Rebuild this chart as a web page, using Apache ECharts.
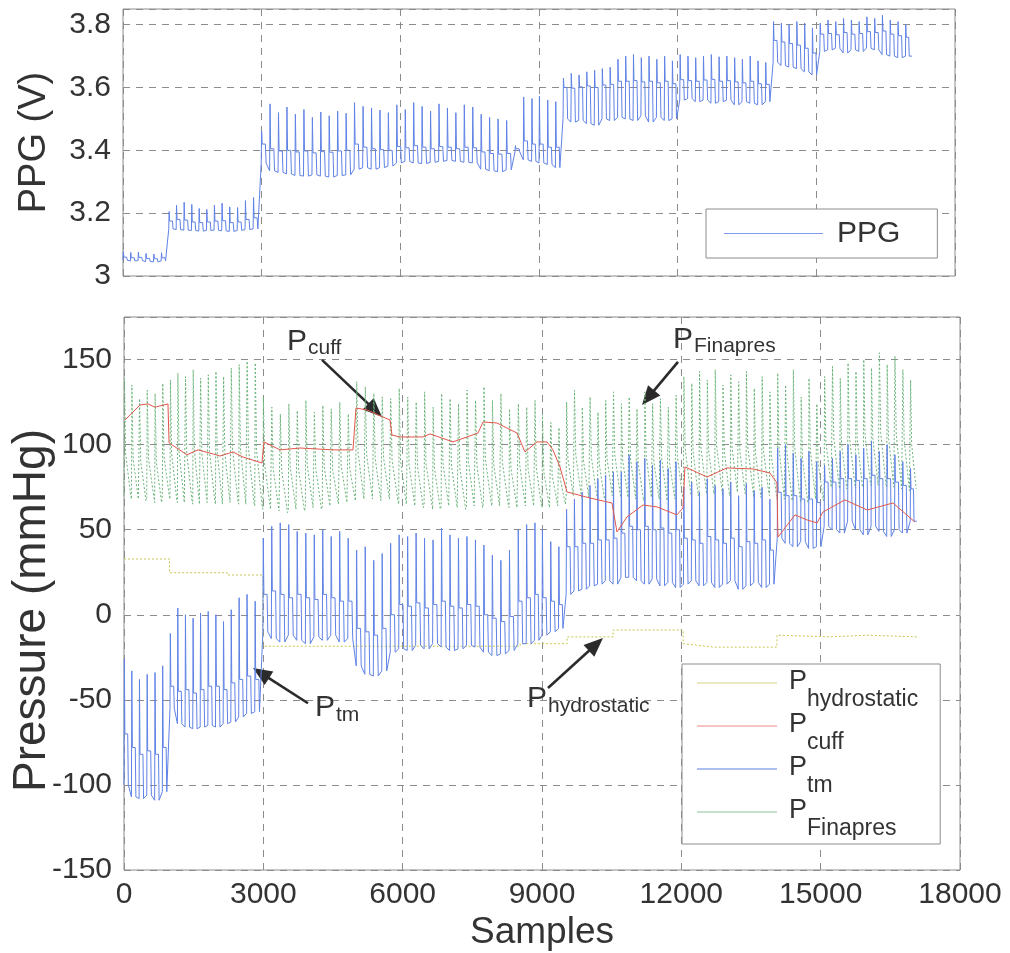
<!DOCTYPE html>
<html>
<head>
<meta charset="utf-8">
<script src="https://cdn.jsdelivr.net/npm/echarts@6/dist/echarts.min.js"></script>
<style>
  html, body { margin: 0; padding: 0; background: #fff; }
  #chart { width: 1010px; height: 953px; }
</style>
</head>
<body>
<div id="chart"></div>
<script>
// ---- Beat onsets (sample index), shared by PPG, Finapres and transmural pressure ----
const beatOnset = [
  0, 160, 325, 490, 660, 825,
  990, 1150, 1315, 1480, 1640, 1805, 1970, 2135, 2300, 2470, 2640, 2815,
  2990, 3172, 3355, 3538, 3720, 3905, 4088, 4270, 4452, 4635, 4818,
  5000, 5185, 5368, 5550, 5732,
  5915, 6098, 6280, 6462, 6645, 6828, 7010, 7192, 7375, 7558,
  7740, 7922, 8105, 8290,
  8480,
  8660, 8840, 9000, 9180, 9355,
  9520, 9690, 9858, 10025, 10195, 10362, 10530, 10700,
  10868, 11035, 11205, 11372, 11540, 11710, 11878,
  12045, 12215, 12382, 12550, 12720, 12888, 13055, 13225, 13392, 13560, 13730, 13898,
  14065, 14235, 14402, 14570, 14740, 14908,
  15075, 15245, 15412, 15580, 15750, 15918, 16085, 16255, 16422, 16590, 16760, 16928
];
const recordEnd = 17070;

// ---- PPG (V): systolic peak, plateau and trough of each beat ----
const ppgSys = [
  3.078, 3.075, 3.076, 3.072, 3.070, 3.074,
  3.205, 3.225, 3.235, 3.228, 3.215, 3.212, 3.226, 3.232, 3.220, 3.218, 3.240, 3.250,
  3.462, 3.548, 3.520, 3.538, 3.515, 3.530, 3.505, 3.522, 3.510, 3.525, 3.518,
  3.552, 3.540, 3.535, 3.528, 3.520,
  3.545, 3.530, 3.552, 3.540, 3.525, 3.548, 3.535, 3.520, 3.545, 3.538,
  3.515, 3.505, 3.500, 3.495,
  3.415,
  3.570, 3.565, 3.572, 3.560, 3.555,
  3.630, 3.645, 3.640, 3.650, 3.655, 3.660, 3.665, 3.690,
  3.700, 3.705, 3.695, 3.700, 3.690, 3.700, 3.685,
  3.705, 3.700, 3.695, 3.700, 3.705, 3.698, 3.700, 3.695, 3.690, 3.700, 3.685, 3.680,
  3.810, 3.805, 3.800, 3.810, 3.805, 3.790,
  3.805, 3.815, 3.810, 3.820, 3.815, 3.810, 3.825, 3.820, 3.830, 3.815, 3.810, 3.800
];
const ppgMid = [
  3.060, 3.058, 3.059, 3.056, 3.055, 3.058,
  3.175, 3.180, 3.178, 3.172, 3.170, 3.172, 3.175, 3.176, 3.170, 3.172, 3.180, 3.185,
  3.420, 3.405, 3.398, 3.400, 3.395, 3.398, 3.392, 3.396, 3.394, 3.398, 3.400,
  3.420, 3.410, 3.405, 3.402, 3.400,
  3.412, 3.408, 3.415, 3.410, 3.405, 3.412, 3.410, 3.405, 3.410, 3.408,
  3.395, 3.390, 3.388, 3.390,
  3.405,
  3.430, 3.420, 3.420, 3.410, 3.410,
  3.600, 3.598, 3.602, 3.605, 3.600, 3.608, 3.610, 3.620,
  3.620, 3.622, 3.618, 3.620, 3.615, 3.620, 3.612,
  3.625, 3.622, 3.620, 3.624, 3.626, 3.620, 3.622, 3.618, 3.615, 3.620, 3.612, 3.610,
  3.750, 3.745, 3.740, 3.735, 3.725, 3.710,
  3.770, 3.772, 3.768, 3.775, 3.770, 3.772, 3.778, 3.775, 3.780, 3.770, 3.765, 3.760
];
const ppgDia = [
  3.050, 3.048, 3.049, 3.046, 3.045, 3.048,
  3.150, 3.148, 3.146, 3.145, 3.143, 3.145, 3.146, 3.144, 3.142, 3.145, 3.148, 3.150,
  3.360, 3.335, 3.330, 3.325, 3.320, 3.318, 3.322, 3.318, 3.315, 3.320, 3.322,
  3.340, 3.345, 3.340, 3.345, 3.350,
  3.360, 3.365, 3.360, 3.358, 3.362, 3.365, 3.368, 3.365, 3.362, 3.360,
  3.340, 3.335, 3.332, 3.338,
  3.395,
  3.370, 3.365, 3.360, 3.355, 3.345,
  3.500, 3.490, 3.495, 3.485, 3.480, 3.500, 3.495, 3.505,
  3.500, 3.495, 3.510, 3.490, 3.505, 3.495, 3.500,
  3.560, 3.565, 3.555, 3.560, 3.550, 3.555, 3.560, 3.545, 3.555, 3.550, 3.545, 3.555,
  3.680, 3.670, 3.665, 3.660, 3.650, 3.640,
  3.715, 3.720, 3.725, 3.710, 3.720, 3.715, 3.725, 3.720, 3.705, 3.700, 3.695, 3.700
];

// ---- Transmural pressure P_tm (mmHg) per beat ----
const tmSys = [
  -26, -33, -38, -35, -34, -30,
  -11, 4, 0, -2, 1, 2, 0, -4, 3, 10, 12, 8,
  45, 52, 54, 53, 49, 48, 47, 50, 46, 49, 45,
  38, 40, 32, 36, 42,
  47, 46, 48, 45, 44, 51, 47, 45, 46, 44,
  41, 35, 32, 38,
  50,
  53, 54, 50, 43, 40,
  62, 68, 72, 76, 80, 82, 84, 84,
  94, 90, 92, 88, 91, 86, 90,
  75, 78, 72, 80, 76, 74, 78, 70, 77, 73, 75, 68,
  98, 100, 95, 92, 96, 90,
  88, 92, 96, 100, 94, 98, 102, 96, 100, 94, 90, 86
];
const tmMid = [
  -70, -78, -82, -80, -82, -78,
  -42, -45, -44, -46, -44, -42, -42, -44, -40, -38, -36, -38,
  12, 14, 12, 10, 12, 10, 9, 12, 10, 8, 8,
  -8, -10, -12, -8, 0,
  6, 5, 7, 4, 6, 8, 5, 4, 6, 5,
  0, -2, -4, -1,
  8,
  10, 12, 10, 8, 6,
  40, 40, 42, 42, 44, 44, 45, 48,
  52, 50, 52, 50, 51, 48, 50,
  45, 44, 42, 46, 44, 42, 45, 40, 43, 42, 44, 38,
  72, 70, 70, 68, 68, 66,
  78, 78, 80, 80, 79, 80, 82, 80, 80, 78, 76, 74
];
const tmDia = [
  -100, -107, -108, -106, -109, -104,
  -55, -64, -66, -67, -66, -65, -66, -64, -63, -60, -58, -57,
  -10, -14, -16, -12, -15, -17, -13, -15, -12, -16, -14,
  -30, -35, -36, -33, -22,
  -20, -21, -18, -20, -17, -19, -21, -20, -18, -19,
  -22, -24, -23, -21,
  -17,
  -17, -15, -12, -10, -8,
  12, 14, 15, 17, 18, 20, 18, 22,
  22, 20, 18, 21, 17, 19, 16,
  18, 20, 17, 19, 16, 18, 20, 15, 17, 19, 16, 18,
  45, 42, 40, 43, 39, 40,
  52, 50, 48, 55, 50, 47, 52, 49, 46, 50, 48, 55
];

// ---- Finger arterial pressure P_Finapres (mmHg) per beat ----
const finSys = [
  139, 135, 127, 132, 130, 136,
  138, 142, 140, 144, 139, 141, 143, 140, 145, 147, 149, 148,
  128, 122, 118, 124, 120, 126, 119, 123, 121, 125, 118,
  137, 134, 130, 128, 127,
  133, 128, 125, 131, 122, 130, 127, 124, 132, 126,
  134, 126, 130, 121,
  124,
  122, 126, 118, 113, 110,
  125, 132, 122, 128, 119, 126, 131, 124,
  128, 121, 131, 124, 127, 122, 129,
  140, 136, 143, 138, 144, 135, 141, 137, 143, 133, 140, 131,
  142, 135, 144, 128, 139, 124,
  140, 146, 139, 148, 143, 150, 145, 154, 147, 152, 144, 138
];
const finMid = [
  95, 92, 90, 92, 90, 93,
  95, 96, 95, 97, 95, 96, 96, 95, 97, 98, 98, 97,
  88, 86, 85, 87, 85, 88, 86, 87, 85, 88, 86,
  95, 94, 92, 92, 91,
  90, 88, 87, 89, 86, 89, 88, 86, 90, 88,
  92, 88, 90, 86,
  88,
  86, 87, 84, 82, 80,
  92, 94, 90, 93, 89, 92, 94, 91,
  92, 89, 94, 90, 92, 89, 93,
  98, 96, 99, 97, 100, 96, 98, 96, 99, 95, 97, 94,
  98, 96, 99, 92, 97, 90,
  102, 104, 101, 105, 103, 106, 104, 107, 105, 106, 103, 100
];
const finDia = [
  70, 68, 67, 69, 66, 70,
  68, 66, 67, 65, 66, 67, 65, 66, 67, 65, 66, 64,
  62, 61, 60, 62, 61, 63, 62, 64, 65, 66, 67,
  68, 68, 67, 68, 67,
  65, 64, 63, 65, 62, 64, 63, 62, 64, 63,
  66, 64, 65, 63,
  64,
  64, 65, 63, 64, 65,
  70, 71, 69, 70, 68, 70, 71, 69,
  68, 67, 69, 68, 67, 68, 69,
  72, 70, 73, 71, 74, 70, 72, 71, 73, 69, 72, 70,
  68, 67, 69, 66, 68, 67,
  75, 76, 74, 77, 75, 78, 76, 77, 75, 74, 73, 74
];

// ---- Cuff pressure P_cuff (mmHg) ----
const cuffX = [22, 345, 517, 667, 947, 970, 1356, 1593, 1852, 2067, 2347, 2562, 2971, 3014, 3359,
  3789, 4500, 4930, 4995, 5232, 5576, 5727, 5770, 5942, 6437, 6588, 7083, 7385, 7622, 7730,
  8031, 8461, 8634, 8892, 9107, 9236, 9387, 9538, 10033, 10507, 10614, 10830, 11174, 11476, 11906,
  12035, 12078, 12552, 12983, 13543, 13909, 14059, 14080, 14449, 14708, 14923, 15050, 15523, 16000, 16557, 17030];
const cuffY = [114.5, 123.3, 123.9, 122, 123.9, 101, 94, 96.9, 95, 93.3, 95.7, 92.7, 89.2, 101.6, 96.9,
  98, 96.9, 96.9, 121.5, 120.4, 116.2, 114.5, 105.6, 104.5, 104.5, 106.3, 101.6, 104.5, 106.8, 113.3,
  112.7, 106.8, 95.7, 101.6, 101.6, 96.9, 86.9, 72.2, 68.6, 65.7, 48.7, 57.5, 64.5, 63.4, 58.7,
  62.8, 86.9, 81, 86.3, 85.7, 83.3, 77.5, 45.7, 58.7, 55.7, 54, 60.4, 67.5, 61.6, 65.7, 54.5];

// ---- Hydrostatic pressure P_hydrostatic (mmHg), step changes with arm position ----
const hydroX = [0, 980, 980, 2220, 2220, 2990, 2990, 8530, 8530, 9540, 9540, 10530, 10530, 12040, 12040, 12700, 14060, 14060, 15200, 16000, 17070];
const hydroY = [32.8, 32.8, 24.7, 24.7, 23.4, 23.4, -18.5, -18.5, -17, -17, -13, -13, -9, -9, -17, -19, -19, -12, -13, -12, -13];

// ---- Axis ticks ----
const sampleTicks = { min: 0, max: 18000, step: 3000 };
const ppgTicks = { min: 3, max: 3.85, step: 0.2 };
const pressureTicks = { min: -150, max: 175, step: 50 };

// ---- Annotations in data coordinates of the pressure panel: label (left, baseline), arrow tail, arrow tip ----
const notes = [
  { sub: 'cuff',        label: [3509, 154.5],  tail: [4263, 149.8],  tip: [5555, 116.3] },
  { sub: 'Finapres',    label: [11820, 155.6], tail: [11928, 148.6], tip: [11153, 123.3] },
  { sub: 'tm',          label: [4112, -60.8],  tail: [3962, -52],    tip: [2777, -31.3] },
  { sub: 'hydrostatic', label: [8677, -55.5],  tail: [9129, -43],    tip: [10313, -13.7] }
];

const FONT = "'Liberation Sans', Arial, Helvetica, sans-serif";
const TEXT = '#333333';
const GRIDC = '#8c8c8c';
const BLUE = '#5f82e6';

// Place each beat's peak, plateau and trough along its own beat interval
function beatTrace(sys, mid, dia, shape) {
  const pts = [];
  for (let i = 0; i < beatOnset.length; i++) {
    const t0 = beatOnset[i];
    const t1 = i + 1 < beatOnset.length ? beatOnset[i + 1] : recordEnd;
    const vals = [dia[i], sys[i], mid[i], mid[i], dia[i]];
    shape.forEach((f, k) => pts.push([Math.round(t0 + f * (t1 - t0)), vals[k]]));
  }
  pts.push([recordEnd, dia[dia.length - 1]]);
  return pts;
}
const zip = (xs, ys) => xs.map((x, i) => [x, ys[i]]);

const stepShape = [0, 0.05, 0.12, 0.5, 0.58];
const finShape = [0, 0.06, 0.22, 0.32, 0.9];

const chart = echarts.init(document.getElementById('chart'), null, { renderer: 'canvas' });

function xAxis(gridIndex, withLabels) {
  return {
    type: 'value', gridIndex,
    min: sampleTicks.min, max: sampleTicks.max, interval: sampleTicks.step,
    axisLine: { show: false }, axisTick: { show: false },
    axisLabel: { show: withLabels, fontSize: 30, color: TEXT, fontFamily: FONT, margin: 10, formatter: v => String(v) },
    splitLine: { show: true, lineStyle: { color: GRIDC, type: [7, 6], width: 1 } },
    name: withLabels ? 'Samples' : '', nameLocation: 'middle', nameGap: 44, nameMoveOverlap: false,
    nameTextStyle: { fontSize: 37, color: TEXT, fontFamily: FONT }
  };
}
function yAxis(gridIndex, t, name, nameStyle, nameGap) {
  return {
    type: 'value', gridIndex, min: t.min, max: t.max, interval: t.step,
    axisLine: { show: false }, axisTick: { show: false },
    axisLabel: {
      fontSize: 30, color: TEXT, fontFamily: FONT, margin: 12,
      formatter: v => (Math.abs((v - t.min) / t.step - Math.round((v - t.min) / t.step)) < 1e-6 ? String(+v.toFixed(2)) : '')
    },
    splitLine: { show: true, lineStyle: { color: GRIDC, type: [7, 6], width: 1 } },
    name, nameLocation: 'middle', nameGap, nameMoveOverlap: false,
    nameTextStyle: Object.assign({ color: TEXT, fontFamily: FONT }, nameStyle)
  };
}

const legendBase = {
  backgroundColor: '#fff', borderColor: GRIDC, borderWidth: 1, borderRadius: 0,
  selectedMode: false, icon: 'rect', itemHeight: 1
};

chart.setOption({
  animation: false,
  backgroundColor: '#fff',
  grid: [
    { left: 123, right: 55, top: 9, height: 267, show: true, borderColor: GRIDC, borderWidth: 1, containLabel: false, outerBoundsMode: 'none' },
    { left: 124, right: 50, top: 317, height: 553, show: true, borderColor: GRIDC, borderWidth: 1, containLabel: false, outerBoundsMode: 'none' }
  ],
  xAxis: [xAxis(0, false), xAxis(1, true)],
  yAxis: [
    yAxis(0, ppgTicks, 'PPG (V)', { fontSize: 38 }, 69),
    yAxis(1, pressureTicks, 'Pressure (mmHg)', { fontSize: 46, padding: [0, 34, 0, 0] }, 69)
  ],
  legend: [
    Object.assign({}, legendBase, {
      data: [{ name: 'PPG', itemStyle: { color: '#7f9cf0' } }], left: 706, top: 209, padding: [9, 37, 9, 18],
      itemWidth: 99,
      textStyle: { fontSize: 30, color: TEXT, fontFamily: FONT, lineHeight: 31, padding: [0, 0, 0, 9] }
    }),
    Object.assign({}, legendBase, {
      data: ['Phydrostatic', 'Pcuff', 'Ptm', 'PFinapres'],
      orient: 'vertical', left: 682, top: 664, padding: [4, 22, 4, 15], itemGap: 0,
      itemWidth: 80,
      formatter: n => '{p|P}{s|' + n.slice(1) + '}',
      textStyle: {
        rich: {
          p: { fontSize: 27, lineHeight: 30, verticalAlign: 'top', padding: [0, 0, 0, 7], color: TEXT, fontFamily: FONT },
          s: { fontSize: 23, lineHeight: 24, verticalAlign: 'top', padding: [20, 0, 0, 0], color: TEXT, fontFamily: FONT }
        }
      }
    })
  ],
  series: [
    {
      name: 'PPG', type: 'line', xAxisIndex: 0, yAxisIndex: 0, symbol: 'none',
      data: beatTrace(ppgSys, ppgMid, ppgDia, stepShape),
      lineStyle: { color: BLUE, width: 1 }, itemStyle: { color: BLUE }
    },
    {
      name: 'PFinapres', type: 'line', xAxisIndex: 1, yAxisIndex: 1, symbol: 'none',
      data: beatTrace(finSys, finMid, finDia, finShape),
      lineStyle: { color: '#6cb47a', width: 1, type: [2, 2] }, itemStyle: { color: '#8cc49a' }
    },
    {
      name: 'Phydrostatic', type: 'line', xAxisIndex: 1, yAxisIndex: 1, symbol: 'none',
      data: zip(hydroX, hydroY),
      lineStyle: { color: '#c9c64f', width: 1, type: [2, 2] }, itemStyle: { color: '#d6d48a' }
    },
    {
      name: 'Ptm', type: 'line', xAxisIndex: 1, yAxisIndex: 1, symbol: 'none',
      data: beatTrace(tmSys, tmMid, tmDia, stepShape),
      lineStyle: { color: BLUE, width: 1 }, itemStyle: { color: BLUE }
    },
    {
      name: 'Pcuff', type: 'line', xAxisIndex: 1, yAxisIndex: 1, symbol: 'none',
      data: zip(cuffX, cuffY),
      lineStyle: { color: '#e2574c', width: 1 }, itemStyle: { color: '#ee8a8a' }
    }
  ]
});

// Arrowed labels naming each pressure trace
function arrow(tail, tip) {
  const [x1, y1] = tail, [x2, y2] = tip;
  const dx = x2 - x1, dy = y2 - y1, len = Math.hypot(dx, dy);
  const ux = dx / len, uy = dy / len, hl = 19, hw = 8;
  const bx = x2 - ux * hl, by = y2 - uy * hl;
  return [
    { type: 'line', shape: { x1, y1, x2: bx + ux * 2, y2: by + uy * 2 }, style: { stroke: '#2b2b2b', lineWidth: 2.6 } },
    { type: 'polygon', shape: { points: [[x2, y2], [bx - uy * hw, by + ux * hw], [bx + uy * hw, by - ux * hw]] }, style: { fill: '#2b2b2b' } }
  ];
}
function subscriptLabel(pos, sub) {
  const [x, base] = pos;
  return [
    { type: 'text', x, y: base + 5, style: { text: 'P', fontSize: 30, fontFamily: FONT, fill: TEXT, verticalAlign: 'bottom' } },
    { type: 'text', x: x + 21, y: base + 7, style: { text: sub, fontSize: 21, fontFamily: FONT, fill: TEXT, verticalAlign: 'bottom' } }
  ];
}
const toPx = p => chart.convertToPixel({ gridIndex: 1 }, p);
const graphics = [];
notes.forEach(n => {
  graphics.push(...subscriptLabel(toPx(n.label), n.sub));
  graphics.push(...arrow(toPx(n.tail), toPx(n.tip)));
});
chart.setOption({ graphic: graphics });
</script>
</body>
</html>
